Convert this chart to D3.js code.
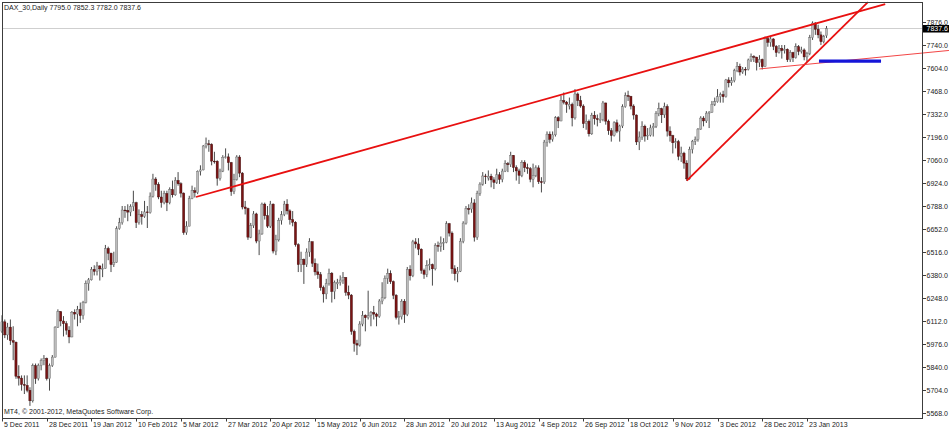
<!DOCTYPE html>
<html><head><meta charset="utf-8">
<script src="https://cdn.jsdelivr.net/npm/d3@7"></script>
<style>body{margin:0;background:#fff}svg{display:block}text{font-family:"Liberation Sans",Arial,sans-serif}</style>
</head><body><svg id="c" width="949" height="429"></svg>
<script>
// ---- data ----
const opens = [6050,6106,6029,6075,5995,5986,5785,5774,5736,5731,5702,5640,5847,5771,5849,5878,5889,5771,5848,5898,6075,6166,6111,6095,6057,6017,6163,6152,6179,6143,6220,6332,6354,6416,6404,6436,6419,6421,6539,6511,6444,6458,6656,6691,6766,6764,6754,6787,6809,6692,6738,6728,6755,6751,6848,6949,6918,6843,6810,6864,6810,6887,6856,6941,6921,6866,6633,6671,6834,6880,6870,6995,7003,7144,7157,7154,7055,7054,6954,6996,7078,7080,7046,6875,6946,7079,6984,6784,6775,6606,6674,6743,6583,6625,6801,6733,6671,6801,6524,6590,6705,6739,6801,6761,6710,6694,6561,6444,6475,6444,6518,6579,6452,6401,6385,6308,6271,6332,6393,6285,6330,6339,6353,6368,6281,6264,6050,5978,5969,6093,6144,6130,6142,6161,6152,6138,6229,6248,6363,6392,6343,6263,6132,6136,6228,6149,6416,6378,6578,6566,6535,6410,6387,6437,6444,6419,6557,6552,6571,6575,6685,6630,6419,6390,6405,6582,6689,6774,6772,6808,6606,6865,6919,6967,6955,6966,6944,6929,6974,6947,6996,7040,7034,7089,7017,6997,6971,7047,7016,7010,6948,6970,7015,6933,6932,7167,7214,7184,7210,7311,7292,7412,7403,7380,7390,7310,7451,7413,7380,7276,7290,7216,7326,7305,7300,7301,7398,7291,7234,7206,7281,7232,7262,7376,7442,7437,7380,7327,7168,7197,7261,7203,7208,7251,7261,7335,7364,7328,7377,7232,7205,7163,7169,7083,7102,7043,6950,7124,7172,7183,7244,7309,7292,7338,7344,7390,7405,7435,7448,7435,7534,7517,7530,7589,7614,7581,7597,7596,7652,7672,7669,7636,7655,7612,7778,7756,7776,7732,7696,7720,7708,7715,7653,7696,7665,7730,7702,7711,7670,7690,7783,7870,7833,7800,7760,7795];
const highs = [6145,6120,6100,6120,6080,5990,5850,5790,5790,5790,5720,5860,5860,5860,5890,5910,5895,5860,5910,6080,6180,6170,6140,6110,6080,6170,6180,6200,6220,6230,6350,6365,6430,6440,6460,6440,6450,6560,6550,6515,6520,6670,6720,6790,6790,6800,6800,6880,6815,6770,6760,6820,6790,6870,6980,6960,6930,6880,6880,6880,6900,6940,6960,6990,6930,6870,6700,6850,6910,6900,7000,7030,7150,7194,7180,7160,7110,7060,7010,7090,7130,7100,7050,6980,7090,7090,6990,6820,6780,6690,6760,6750,6650,6810,6810,6790,6820,6805,6620,6720,6760,6820,6830,6770,6760,6700,6570,6520,6480,6540,6600,6580,6480,6450,6400,6320,6360,6420,6400,6350,6360,6380,6400,6370,6320,6270,6060,6000,6110,6170,6150,6290,6170,6200,6160,6240,6340,6380,6420,6410,6350,6270,6170,6240,6240,6430,6440,6590,6600,6600,6540,6420,6470,6480,6450,6570,6580,6610,6600,6700,6690,6640,6440,6430,6600,6700,6790,6800,6840,6830,6880,6930,6990,6980,7000,6980,6960,7010,6990,7010,7060,7050,7110,7090,7030,7010,7060,7060,7040,7020,7040,7030,7030,6960,7180,7230,7230,7230,7320,7320,7440,7460,7410,7430,7400,7480,7460,7440,7390,7330,7300,7340,7350,7330,7340,7410,7400,7300,7250,7290,7300,7270,7390,7460,7470,7440,7390,7330,7230,7290,7270,7250,7270,7280,7350,7400,7370,7400,7390,7260,7210,7190,7180,7140,7110,7060,7140,7180,7200,7250,7320,7320,7350,7350,7410,7430,7480,7460,7470,7540,7550,7550,7600,7640,7630,7610,7610,7660,7690,7680,7670,7680,7660,7790,7790,7790,7780,7740,7740,7740,7740,7720,7710,7700,7750,7740,7730,7720,7700,7800,7880,7875,7860,7820,7800,7852.3];
const lows = [6040,6010,6000,5970,5880,5770,5730,5700,5680,5690,5610,5630,5740,5760,5820,5850,5760,5700,5840,5895,6070,6080,6020,6030,5980,6015,6120,6080,6100,6120,6215,6290,6350,6380,6380,6350,6370,6420,6470,6400,6430,6455,6650,6680,6720,6700,6730,6760,6660,6680,6680,6720,6660,6745,6840,6880,6830,6780,6800,6760,6800,6840,6850,6910,6840,6620,6620,6670,6830,6840,6860,6970,7000,7130,7110,7030,7040,6910,6940,6990,7070,7000,6850,6860,6940,6960,6770,6740,6590,6600,6660,6570,6500,6620,6710,6660,6660,6510,6500,6580,6680,6730,6740,6680,6670,6550,6400,6400,6330,6430,6490,6430,6380,6360,6290,6220,6240,6320,6220,6240,6300,6320,6330,6260,6240,6030,5930,5910,5960,6080,6050,6120,6080,6120,6080,6130,6210,6240,6330,6330,6240,6120,6090,6120,6100,6140,6350,6370,6540,6500,6390,6360,6370,6410,6320,6410,6520,6520,6530,6570,6610,6390,6350,6340,6400,6570,6680,6740,6750,6580,6590,6850,6910,6920,6940,6900,6890,6920,6920,6930,6990,6990,7020,6990,6940,6920,6960,6990,6980,6930,6900,6960,6920,6870,6920,7140,7160,7170,7200,7250,7290,7390,7340,7360,7260,7300,7380,7370,7250,7240,7200,7210,7270,7260,7280,7290,7270,7210,7170,7200,7220,7170,7250,7370,7410,7360,7300,7150,7120,7180,7170,7180,7200,7200,7250,7320,7280,7310,7200,7170,7100,7130,7060,7050,7010,6938,6945,7100,7150,7170,7240,7260,7280,7250,7340,7380,7400,7400,7400,7430,7490,7500,7520,7580,7560,7570,7560,7590,7640,7640,7590,7610,7596,7610,7730,7730,7710,7670,7690,7660,7690,7640,7640,7640,7660,7680,7690,7650,7640,7680,7770,7800,7780,7740,7750,7782];
const closes = [6106,6029,6075,5995,5986,5785,5774,5736,5731,5702,5640,5847,5771,5849,5878,5889,5771,5848,5898,6075,6166,6111,6095,6057,6017,6163,6152,6179,6143,6220,6332,6354,6416,6404,6436,6419,6421,6539,6511,6444,6458,6656,6691,6766,6764,6754,6787,6809,6692,6738,6728,6755,6751,6848,6949,6918,6843,6810,6864,6810,6887,6856,6941,6921,6866,6633,6671,6834,6880,6870,6995,7003,7144,7157,7154,7055,7054,6954,6996,7078,7080,7046,6875,6946,7079,6984,6784,6775,6606,6674,6743,6583,6625,6801,6733,6671,6801,6524,6590,6705,6739,6801,6761,6710,6694,6561,6444,6475,6444,6518,6579,6452,6401,6385,6308,6271,6332,6393,6285,6339,6339,6353,6368,6281,6264,6050,5978,5969,6093,6144,6130,6142,6161,6152,6138,6229,6248,6363,6392,6343,6263,6132,6136,6228,6149,6416,6378,6578,6566,6535,6410,6387,6437,6444,6419,6557,6552,6571,6575,6685,6630,6419,6390,6405,6582,6689,6774,6772,6808,6606,6865,6919,6967,6966,6966,6944,6929,6974,6947,6996,7040,7034,7089,7017,6997,6971,7047,7016,7010,6948,6970,7015,6933,6932,7167,7214,7184,7210,7311,7292,7412,7403,7390,7390,7310,7451,7413,7380,7276,7290,7216,7326,7305,7300,7301,7398,7291,7234,7206,7281,7232,7262,7376,7442,7437,7380,7327,7168,7197,7261,7203,7208,7251,7261,7335,7364,7328,7377,7232,7205,7163,7169,7083,7102,7043,6950,7124,7172,7183,7244,7309,7292,7338,7344,7390,7405,7435,7448,7435,7534,7517,7530,7589,7614,7581,7597,7596,7652,7672,7669,7636,7655,7612,7778,7756,7776,7732,7696,7720,7708,7715,7653,7696,7665,7730,7702,7711,7670,7690,7783,7870,7833,7800,7760,7790,7837.6];

const priceTicks = [7876,7740,7604,7468,7332,7196,7060,6924,6788,6652,6516,6380,6248,6112,5976,5840,5704,5568];
const dateTickIdx = [0,16,32,48,64,80,96,112,128,144,160,176,192,208,224,240,256,272,288];
const dateTickLabels = ["5 Dec 2011","28 Dec 2011","19 Jan 2012","10 Feb 2012","5 Mar 2012","27 Mar 2012","20 Apr 2012","15 May 2012","6 Jun 2012","28 Jun 2012","20 Jul 2012","13 Aug 2012","4 Sep 2012","26 Sep 2012","18 Oct 2012","9 Nov 2012","3 Dec 2012","28 Dec 2012","23 Jan 2013"];

// trend objects: [barIndex, price] endpoints
const longTrend = [[69.4, 6843], [316, 7982]];
const steepTrend = [[245, 6940], [309.8, 7994]];
const thinTrend = [[271, 7599], [338.8, 7708]];
const blueLevel = [[292.3, 7645], [314.5, 7645]];

const symbolTitle = "DAX_30,Daily  7795.0 7852.3 7782.0 7837.6";
const lastPrice = 7837.6;
const copyright = "MT4, \u00A9 2001-2012, MetaQuotes Software Corp.";

// ---- drawing ----
const svg = d3.select("#c");
const L = 2, R = 922, T = 2, B = 418;
const x = d3.scaleLinear().domain([0, 339]).range([L, L + 339 * 2.795]);
const y = d3.scaleLinear().domain([5538.5, 7994.1]).range([B, T]);

svg.append("rect").attr("width", 949).attr("height", 429).attr("fill", "#fff");

// bid line
svg.append("line").attr("x1", L).attr("x2", R).attr("y1", y(lastPrice)).attr("y2", y(lastPrice))
  .attr("stroke", "#cfcfcf").attr("stroke-width", 1);

// candles
const g = svg.append("g");
const n = Math.min(opens.length, highs.length, lows.length, closes.length);
for (let i = 0; i < n; i++) {
  const o = opens[i], h = highs[i], l = lows[i], c = closes[i];
  const cx = x(i);
  const up = c >= o;
  g.append("line").attr("x1", cx).attr("x2", cx).attr("y1", y(h)).attr("y2", y(l))
    .attr("stroke", "#1a1a1a").attr("stroke-width", 0.8);
  const top = y(Math.max(o, c)), bot = y(Math.min(o, c));
  g.append("rect").attr("x", cx - 1.1).attr("width", 2.2)
    .attr("y", top).attr("height", Math.max(0.8, bot - top))
    .attr("fill", up ? "#bcbcbc" : "#7a1414")
    .attr("stroke", up ? "#666" : "#3a0a0a").attr("stroke-width", 0.4);
}

// trend lines
const lineGen = d3.line().x(d => x(d[0])).y(d => y(d[1]));
svg.append("path").attr("d", lineGen(longTrend)).attr("stroke", "#e81010").attr("stroke-width", 1.8).attr("fill", "none");
svg.append("path").attr("d", lineGen(steepTrend)).attr("stroke", "#e81010").attr("stroke-width", 1.8).attr("fill", "none");
svg.append("path").attr("d", lineGen(thinTrend)).attr("stroke", "#f03030").attr("stroke-width", 0.9).attr("fill", "none");
svg.append("path").attr("d", lineGen(blueLevel)).attr("stroke", "#1515d8").attr("stroke-width", 3.2).attr("fill", "none");

// frame
svg.append("rect").attr("x", L + 0.5).attr("y", T + 0.5).attr("width", R - L).attr("height", B - T)
  .attr("fill", "none").attr("stroke", "#3c3c3c").attr("stroke-width", 1);

// price axis
const py = svg.append("g");
priceTicks.forEach(v => {
  const yy = Math.round(y(v)) + 0.5;
  py.append("line").attr("x1", R + 0.5).attr("x2", R + 4).attr("y1", yy).attr("y2", yy).attr("stroke", "#3c3c3c");
  py.append("text").attr("x", 926.5).attr("y", yy + 2.5).attr("font-size", 7).attr("fill", "#222")
    .text(d3.format(".1f")(v));
});
// last price box
const ly = y(lastPrice);
svg.append("rect").attr("x", 923).attr("y", ly - 3.5).attr("width", 26).attr("height", 7.5).attr("fill", "#000");
svg.append("text").attr("x", 926.5).attr("y", ly + 2.5).attr("font-size", 7).attr("fill", "#fff").text(d3.format(".1f")(lastPrice));

// date axis
dateTickIdx.forEach((idx, k) => {
  const xx = Math.round(x(idx)) + 0.5;
  svg.append("line").attr("x1", xx).attr("x2", xx).attr("y1", B).attr("y2", B + 3.5).attr("stroke", "#3c3c3c");
  svg.append("text").attr("x", xx + 1.5).attr("y", 426.5).attr("font-size", 7).attr("fill", "#222").text(dateTickLabels[k]);
});

// texts
svg.append("text").attr("x", 4).attr("y", 9.5).attr("font-size", 7).attr("fill", "#222").text(symbolTitle);
svg.append("text").attr("x", 4).attr("y", 414).attr("font-size", 7).attr("fill", "#222").text(copyright);
</script></body></html>
